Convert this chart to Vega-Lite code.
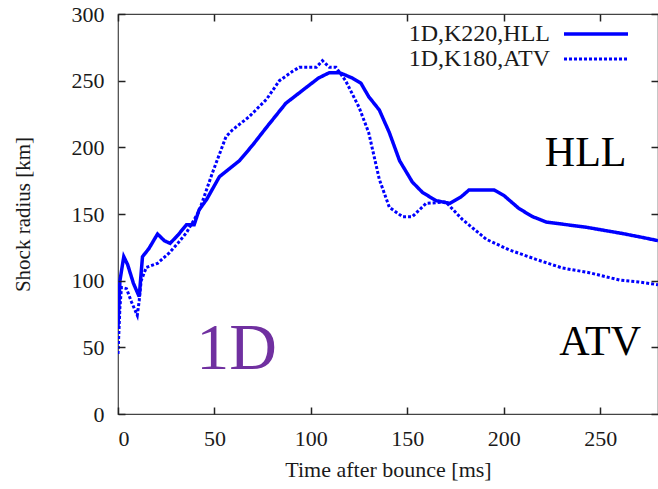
{
  "$schema": "https://vega.github.io/schema/vega-lite/v6.json",
  "width": 540,
  "height": 400,
  "autosize": {"type": "none"},
  "padding": {"left": 118, "top": 14, "right": 0, "bottom": 75},
  "background": "white",
  "config": {
    "view": {"stroke": "#444", "strokeWidth": 1.2, "fill": null},
    "font": "Liberation Serif",
    "axis": {
      "labelFont": "Liberation Serif",
      "titleFont": "Liberation Serif",
      "labelFontSize": 22,
      "titleFontSize": 22,
      "titleFontWeight": "normal",
      "labelColor": "#1a1a1a",
      "titleColor": "#1a1a1a",
      "domain": false,
      "tickColor": "#222",
      "tickWidth": 1.5,
      "tickSize": 7,
      "grid": false
    }
  },
  "datasets": {
    "curves": [
      {"model": "1D,K220,HLL", "t": 0, "r": 65},
      {"model": "1D,K220,HLL", "t": 1, "r": 100},
      {"model": "1D,K220,HLL", "t": 3, "r": 118},
      {"model": "1D,K220,HLL", "t": 5, "r": 112},
      {"model": "1D,K220,HLL", "t": 8, "r": 98},
      {"model": "1D,K220,HLL", "t": 11, "r": 88},
      {"model": "1D,K220,HLL", "t": 12.7, "r": 118},
      {"model": "1D,K220,HLL", "t": 16, "r": 124},
      {"model": "1D,K220,HLL", "t": 20.5, "r": 135},
      {"model": "1D,K220,HLL", "t": 24, "r": 130},
      {"model": "1D,K220,HLL", "t": 27, "r": 128},
      {"model": "1D,K220,HLL", "t": 31, "r": 134},
      {"model": "1D,K220,HLL", "t": 35.5, "r": 142},
      {"model": "1D,K220,HLL", "t": 39.5, "r": 142},
      {"model": "1D,K220,HLL", "t": 42, "r": 153},
      {"model": "1D,K220,HLL", "t": 46, "r": 161},
      {"model": "1D,K220,HLL", "t": 52.6, "r": 178},
      {"model": "1D,K220,HLL", "t": 63, "r": 190},
      {"model": "1D,K220,HLL", "t": 70, "r": 202},
      {"model": "1D,K220,HLL", "t": 77, "r": 215},
      {"model": "1D,K220,HLL", "t": 87, "r": 233},
      {"model": "1D,K220,HLL", "t": 97.7, "r": 245},
      {"model": "1D,K220,HLL", "t": 104, "r": 252},
      {"model": "1D,K220,HLL", "t": 109.6, "r": 256},
      {"model": "1D,K220,HLL", "t": 114.8, "r": 256},
      {"model": "1D,K220,HLL", "t": 121.5, "r": 252},
      {"model": "1D,K220,HLL", "t": 126, "r": 248},
      {"model": "1D,K220,HLL", "t": 130, "r": 238},
      {"model": "1D,K220,HLL", "t": 135.5, "r": 228},
      {"model": "1D,K220,HLL", "t": 140.7, "r": 211},
      {"model": "1D,K220,HLL", "t": 146, "r": 190},
      {"model": "1D,K220,HLL", "t": 152.6, "r": 174},
      {"model": "1D,K220,HLL", "t": 158, "r": 166},
      {"model": "1D,K220,HLL", "t": 165, "r": 160},
      {"model": "1D,K220,HLL", "t": 172, "r": 158},
      {"model": "1D,K220,HLL", "t": 178, "r": 163},
      {"model": "1D,K220,HLL", "t": 182, "r": 168},
      {"model": "1D,K220,HLL", "t": 195, "r": 168},
      {"model": "1D,K220,HLL", "t": 200, "r": 164},
      {"model": "1D,K220,HLL", "t": 208, "r": 154},
      {"model": "1D,K220,HLL", "t": 215, "r": 148},
      {"model": "1D,K220,HLL", "t": 222, "r": 144},
      {"model": "1D,K220,HLL", "t": 243, "r": 140},
      {"model": "1D,K220,HLL", "t": 261, "r": 135.5},
      {"model": "1D,K220,HLL", "t": 270, "r": 133},
      {"model": "1D,K220,HLL", "t": 280, "r": 130},
      {"model": "1D,K180,ATV", "t": 0, "r": 45},
      {"model": "1D,K180,ATV", "t": 1, "r": 80},
      {"model": "1D,K180,ATV", "t": 1.8, "r": 95},
      {"model": "1D,K180,ATV", "t": 4.4, "r": 94},
      {"model": "1D,K180,ATV", "t": 7, "r": 84},
      {"model": "1D,K180,ATV", "t": 10, "r": 74},
      {"model": "1D,K180,ATV", "t": 11, "r": 85},
      {"model": "1D,K180,ATV", "t": 12, "r": 100},
      {"model": "1D,K180,ATV", "t": 14.7, "r": 110},
      {"model": "1D,K180,ATV", "t": 20.5, "r": 113},
      {"model": "1D,K180,ATV", "t": 26.7, "r": 121},
      {"model": "1D,K180,ATV", "t": 31, "r": 128},
      {"model": "1D,K180,ATV", "t": 35.5, "r": 136},
      {"model": "1D,K180,ATV", "t": 42, "r": 152},
      {"model": "1D,K180,ATV", "t": 49, "r": 181},
      {"model": "1D,K180,ATV", "t": 56, "r": 208},
      {"model": "1D,K180,ATV", "t": 59.3, "r": 213},
      {"model": "1D,K180,ATV", "t": 68, "r": 223},
      {"model": "1D,K180,ATV", "t": 77, "r": 236},
      {"model": "1D,K180,ATV", "t": 83.7, "r": 250},
      {"model": "1D,K180,ATV", "t": 90.5, "r": 257},
      {"model": "1D,K180,ATV", "t": 94, "r": 260},
      {"model": "1D,K180,ATV", "t": 102.8, "r": 260},
      {"model": "1D,K180,ATV", "t": 106, "r": 265},
      {"model": "1D,K180,ATV", "t": 109.6, "r": 260},
      {"model": "1D,K180,ATV", "t": 113, "r": 260},
      {"model": "1D,K180,ATV", "t": 118, "r": 250},
      {"model": "1D,K180,ATV", "t": 125, "r": 230},
      {"model": "1D,K180,ATV", "t": 130, "r": 211},
      {"model": "1D,K180,ATV", "t": 135.5, "r": 176},
      {"model": "1D,K180,ATV", "t": 140.7, "r": 155},
      {"model": "1D,K180,ATV", "t": 147.5, "r": 148},
      {"model": "1D,K180,ATV", "t": 152.6, "r": 148},
      {"model": "1D,K180,ATV", "t": 159.8, "r": 158},
      {"model": "1D,K180,ATV", "t": 170, "r": 159},
      {"model": "1D,K180,ATV", "t": 178.5, "r": 146},
      {"model": "1D,K180,ATV", "t": 191, "r": 131},
      {"model": "1D,K180,ATV", "t": 203, "r": 123},
      {"model": "1D,K180,ATV", "t": 216.7, "r": 116},
      {"model": "1D,K180,ATV", "t": 230.4, "r": 109.5},
      {"model": "1D,K180,ATV", "t": 244.3, "r": 106},
      {"model": "1D,K180,ATV", "t": 260, "r": 100.5},
      {"model": "1D,K180,ATV", "t": 270, "r": 99},
      {"model": "1D,K180,ATV", "t": 280, "r": 97}
    ],
    "notes": [
      {"label": "HLL", "t": 242.5, "r": 196},
      {"label": "ATV", "t": 250, "r": 54},
      {"label": "1D", "t": 61.5, "r": 49}
    ]
  },
  "layer": [
    {
      "data": {"name": "curves"},
      "mark": {"type": "line", "color": "#0000ff", "clip": true},
      "encoding": {
        "x": {
          "field": "t", "type": "quantitative",
          "scale": {"domain": [0, 280], "nice": false, "zero": false},
          "axis": {"orient": "bottom", "title": "Time after bounce [ms]", "values": [0, 50, 100, 150, 200, 250], "ticks": false, "labelPadding": 14, "titlePadding": 10}
        },
        "y": {
          "field": "r", "type": "quantitative",
          "scale": {"domain": [0, 300], "nice": false},
          "axis": {"orient": "left", "title": "Shock radius [km]", "titleFontSize": 21, "values": [0, 50, 100, 150, 200, 250, 300], "ticks": false, "labelPadding": 14, "titlePadding": 38}
        },
        "strokeDash": {
          "field": "model", "type": "nominal",
          "scale": {"domain": ["1D,K220,HLL", "1D,K180,ATV"], "range": [[1, 0], [3, 2]]},
          "legend": {
            "orient": "none", "legendX": 466, "legendY": 8, "title": null,
            "padding": 0, "rowPadding": 1,
            "labelFont": "Liberation Serif", "labelFontSize": 24, "labelColor": "#1a1a1a",
            "labelAlign": "right", "labelOffset": -58,
            "symbolType": "M-4,0H4", "symbolSize": 256, "symbolStrokeColor": "#0000ff",
            "symbolStrokeWidth": 3.2
          }
        },
        "strokeWidth": {
          "field": "model", "type": "nominal",
          "scale": {"domain": ["1D,K220,HLL", "1D,K180,ATV"], "range": [3.5, 3]},
          "legend": null
        },
        "order": {"field": "t", "type": "quantitative"}
      }
    },
    {
      "data": {"name": "notes"},
      "transform": [{"filter": "datum.label === '1D'"}],
      "mark": {"type": "text", "font": "Liberation Serif", "align": "center", "baseline": "middle", "fontSize": 66, "color": "#7030a0"},
      "encoding": {
        "x": {
          "field": "t", "type": "quantitative",
          "axis": {"orient": "top", "offset": -400, "zindex": 2, "title": null, "labels": false, "ticks": true, "tickSize": 7, "values": [0, 50, 100, 150, 200, 250]}
        },
        "y": {
          "field": "r", "type": "quantitative",
          "axis": {"orient": "right", "offset": -540, "zindex": 2, "title": null, "labels": false, "ticks": true, "tickSize": 7, "values": [0, 50, 100, 150, 200, 250, 300]}
        },
        "text": {"field": "label"}
      }
    },
    {
      "data": {"name": "notes"},
      "transform": [{"filter": "datum.label !== '1D'"}],
      "mark": {"type": "text", "font": "Liberation Serif", "align": "center", "baseline": "middle", "fontSize": 42, "color": "#000000"},
      "encoding": {
        "x": {
          "field": "t", "type": "quantitative",
          "axis": {"orient": "bottom", "offset": -400, "zindex": 2, "title": null, "labels": false, "ticks": true, "tickSize": 7, "values": [0, 50, 100, 150, 200, 250]}
        },
        "y": {
          "field": "r", "type": "quantitative",
          "axis": {"orient": "left", "offset": -540, "zindex": 2, "title": null, "labels": false, "ticks": true, "tickSize": 7, "values": [0, 50, 100, 150, 200, 250, 300]}
        },
        "text": {"field": "label"}
      }
    }
  ],
  "resolve": {"axis": {"x": "independent", "y": "independent"}}
}
